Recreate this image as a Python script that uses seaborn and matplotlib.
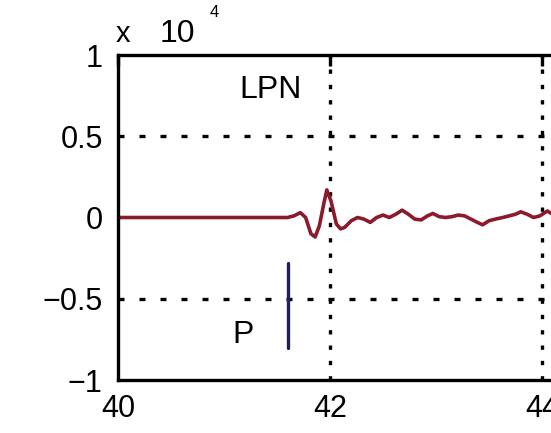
import matplotlib
matplotlib.use("Agg")
import matplotlib.pyplot as plt
import seaborn as sns
import pandas as pd

# ---- data (amplitude in counts) ----
time_s = [40.0, 41.60, 41.66, 41.72, 41.77, 41.82, 41.86, 41.90, 41.94, 41.97,
          42.01, 42.06, 42.10, 42.14, 42.20, 42.26, 42.32, 42.38, 42.44, 42.50,
          42.56, 42.62, 42.68, 42.74, 42.80, 42.86, 42.92, 42.97, 43.03, 43.09,
          43.15, 43.21, 43.27, 43.33, 43.39, 43.44, 43.50, 43.56, 43.63, 43.69,
          43.75, 43.80, 43.86, 43.92, 43.98, 44.05, 44.10]
amplitude = [0, 0, 100, 300, 0, -1000, -1200, -500, 800, 1700,
             1000, -400, -700, -600, -200, 0, -100, -300, 0, 150,
             0, 200, 450, 200, -100, -150, 100, 250, 50, 0,
             50, 150, 100, -100, -300, -450, -200, -100, 0, 100,
             200, 350, 200, 0, 100, 400, 200]
x_ticks = [40, 42, 44]
y_ticks = [-10000, -5000, 0, 5000, 10000]
y_tick_labels = ["\u22121", "\u22120.5", "0", "0.5", "1"]
station = "LPN"
phase = "P"
pick_time = 41.60
pick_span = [-2800, -8000]

df = pd.DataFrame({"t": time_s, "a": amplitude})

sns.set_style("white")
plt.rcParams["font.family"] = ["Liberation Sans", "DejaVu Sans"]
plt.rcParams["text.color"] = "black"

fig = plt.figure(figsize=(5.51, 4.33), dpi=100)
# axes extends past the right edge (reference is cropped)
ax = fig.add_axes([118 / 551, 53 / 433, 5 * 106 / 551, 325 / 433])

sns.lineplot(data=df, x="t", y="a", ax=ax, color="#8c1a2c", lw=2.6,
             estimator=None, sort=False)
ax.plot([pick_time, pick_time], pick_span, color="#1f1f5a", lw=2.4)

ax.set_xlim(40, 45)
ax.set_ylim(-10000, 10000)
ax.set_xticks(x_ticks)
ax.set_xticklabels([str(v) for v in x_ticks])
ax.set_yticks(y_ticks)
ax.set_yticklabels(y_tick_labels)
ax.set_xlabel("")
ax.set_ylabel("")

# grid
for xv in x_ticks[1:]:
    ax.axvline(xv, color="black", lw=2.4, ls=(0, (1.3, 3.3)), zorder=1)
for yv in [-5000, 5000]:
    ax.axhline(yv, color="black", lw=2.4, ls=(0, (1.8, 4.5)), zorder=1)

for s in ax.spines.values():
    s.set_linewidth(2.4)
    s.set_color("black")

ax.tick_params(axis="both", direction="in", length=8, width=2.4,
               labelsize=22, colors="black", top=True, right=True)
ax.tick_params(axis="y", pad=11)
ax.tick_params(axis="x", pad=10)

ax.text(41.44, 0.735e4, station, fontsize=23, color="black",
        ha="center", va="baseline")
ax.text(41.18, -0.772e4, phase, fontsize=23, color="black",
        ha="center", va="baseline")

# exponent label
ax.text(-0.005, 1.04, "x", transform=ax.transAxes, fontsize=21,
        color="black", ha="left", va="baseline")
ax.text(0.079, 1.04, "10", transform=ax.transAxes, fontsize=23,
        color="black", ha="left", va="baseline")
ax.text(0.172, 1.117, "4", transform=ax.transAxes, fontsize=12,
        color="black", ha="left", va="baseline")

fig.savefig("out.png", dpi=100)
